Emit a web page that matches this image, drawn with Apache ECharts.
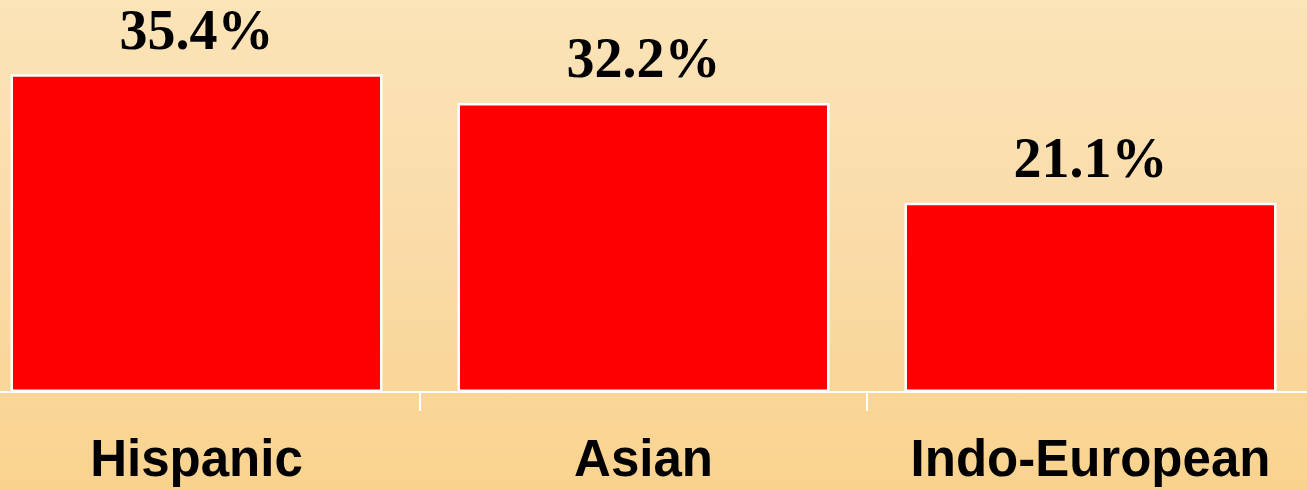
<!DOCTYPE html>
<html>
<head>
<meta charset="utf-8">
<script src="https://cdn.jsdelivr.net/npm/echarts@6/dist/echarts.min.js"></script>
<style>
    html, body { margin: 0; padding: 0; overflow: hidden; }
    body { width: 1307px; height: 490px; background: linear-gradient(to bottom, #fbe4b8 0%, #fadcaa 45%, #f9d38e 100%); }
    #container { width: 1341px; height: 490px; margin-left: -27px; }
</style>
</head>
<body>
<div id="container"></div>
<script type="text/javascript">
    var categories = ['Hispanic', 'Asian', 'Indo-European'];
    var values = [35.4, 32.2, 21.1];

    var dom = document.getElementById("container");
    var myChart = echarts.init(dom);

    var option = {
        backgroundColor: 'transparent',
        animation: false,
        grid: {
            left: 0,
            right: 0,
            top: 33,
            bottom: 98
        },
        xAxis: {
            type: 'category',
            data: categories,
            axisLine: {show: true, lineStyle: {color: '#ffffff', width: 2}},
            axisTick: {show: true, length: 19, lineStyle: {color: '#ffffff', width: 2}},
            axisLabel: {
                interval: 0,
                color: '#000000',
                fontFamily: 'Liberation Sans',
                fontWeight: 'bold',
                fontSize: 51,
                margin: 44
            }
        },
        yAxis: {
            type: 'value',
            min: 0,
            max: 40,
            show: false,
            splitLine: {show: false}
        },
        series: [{
            type: 'bar',
            data: values,
            barWidth: 372,
            itemStyle: {
                color: '#ff0000',
                borderColor: '#ffffff',
                borderWidth: 2.5
            },
            label: {
                show: true,
                position: 'top',
                distance: 12,
                formatter: function (p) { return p.value.toFixed(1) + '%'; },
                color: '#000000',
                fontFamily: 'Liberation Serif',
                fontWeight: 'bold',
                fontSize: 56
            }
        }]
    };
    myChart.setOption(option, true);
</script>
</body>
</html>
